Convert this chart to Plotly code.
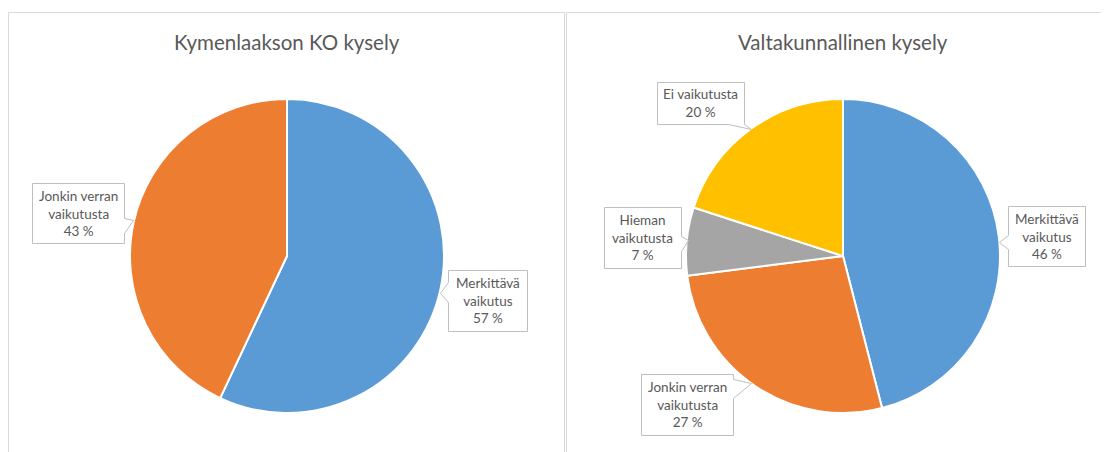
import plotly.graph_objects as go

# page body has an 8px margin: figure is placed at (8, 8) in the window
OFF = 8
W, H = 1101, 444

# ---- data ----
titles = ["Kymenlaakson KO kysely", "Valtakunnallinen kysely"]
left_categories = ["Merkittävä vaikutus", "Jonkin verran vaikutusta"]
left_values = [57, 43]
right_categories = ["Merkittävä vaikutus", "Jonkin verran vaikutusta",
                    "Hieman vaikutusta", "Ei vaikutusta"]
right_values = [46, 27, 7, 20]

# ---- styles ----
cat_colors = {
    "Merkittävä vaikutus": "#5B9BD5",
    "Jonkin verran vaikutusta": "#ED7D31",
    "Hieman vaikutusta": "#A5A5A5",
    "Ei vaikutusta": "#FFC000",
}
FONT = "Lato, Carlito, Calibri, sans-serif"
TXT = "#595959"
BORDER = "#D9D9D9"
CALLOUT = "#BFBFBF"


def px(x):
    return (x - OFF) / W


def py(y):
    return 1 - (y - OFF) / H


def label_text(cat, val):
    if len(cat) > 13:
        head, tail = cat.rsplit(" ", 1)
        cat = head + "<br>" + tail
    return f"{cat}<br>{val} %"


# pie geometry (window pixels): center x, center y, radius
pies = [
    (287, 256, 157, left_categories, left_values),
    (843, 256, 157, right_categories, right_values),
]

fig = go.Figure()
for cx, cy, r, cats, vals in pies:
    fig.add_trace(go.Pie(
        labels=cats, values=vals, sort=False, direction="clockwise", rotation=0,
        marker=dict(colors=[cat_colors[c] for c in cats], line=dict(color="white", width=2)),
        textinfo="none", hoverinfo="label+percent", showlegend=False,
        domain=dict(x=[px(cx - r), px(cx + r)], y=[py(cy + r), py(cy - r)]),
    ))

shapes = []
# panel borders
for x0, x1 in [(8.5, 564.5), (566.5, 1130)]:
    shapes.append(dict(type="rect", xref="paper", yref="paper",
                       x0=px(x0), x1=px(x1), y0=py(480), y1=py(12.5),
                       line=dict(color=BORDER, width=1), fillcolor="rgba(0,0,0,0)"))

annotations = []
for (cx, _, _, _, _), t in zip(pies, titles):
    annotations.append(dict(text=t, x=px(cx), y=py(42), xref="paper", yref="paper",
                            xanchor="center", yanchor="middle", showarrow=False,
                            font=dict(family=FONT, size=20.5, color=TXT)))

# callout boxes (window pixels): box (x0,y0,x1,y1), side of pointer, base (a,b), tip (tx,ty)
callouts = [
    (label_text(left_categories[1], left_values[1]), (32, 183, 124, 243), "right", (218, 233), (133, 220)),
    (label_text(left_categories[0], left_values[0]), (448, 270, 527, 331), "left", (282, 302), (440, 293)),
    (label_text(right_categories[3], right_values[3]), (657, 82, 744, 124), "bottom", (728, 744), (751, 129)),
    (label_text(right_categories[2], right_values[2]), (604, 207, 681, 268), "right", (236, 251), (688, 240)),
    (label_text(right_categories[1], right_values[1]), (641, 374, 733, 435), "right", (379, 398), (751, 383)),
    (label_text(right_categories[0], right_values[0]), (1008, 206, 1085, 266), "left", (235, 249), (999, 242)),
]


def path_from(pts):
    return "M " + " L ".join(f"{px(x + 0.5):.5f},{py(y + 0.5):.5f}" for x, y in pts) + " Z"


for text, (x0, y0, x1, y1), side, (a, b), (tx, ty) in callouts:
    if side == "right":
        pts = [(x0, y0), (x1, y0), (x1, a), (tx, ty), (x1, b), (x1, y1), (x0, y1)]
    elif side == "left":
        pts = [(x0, y0), (x1, y0), (x1, y1), (x0, y1), (x0, b), (tx, ty), (x0, a)]
    else:  # bottom
        pts = [(x0, y0), (x1, y0), (x1, y1), (b, y1), (tx, ty), (a, y1), (x0, y1)]
    shapes.append(dict(type="path", xref="paper", yref="paper", path=path_from(pts),
                       line=dict(color=CALLOUT, width=1), fillcolor="white"))
    annotations.append(dict(text=text, x=px((x0 + x1) / 2), y=py((y0 + y1) / 2),
                            xref="paper", yref="paper", xanchor="center", yanchor="middle",
                            showarrow=False, align="center",
                            font=dict(family=FONT, size=13.5, color=TXT)))

fig.update_layout(
    width=W, height=H, margin=dict(l=0, r=0, t=0, b=0),
    paper_bgcolor="white", plot_bgcolor="white",
    shapes=shapes, annotations=annotations,
)

fig.write_html("out.html")
